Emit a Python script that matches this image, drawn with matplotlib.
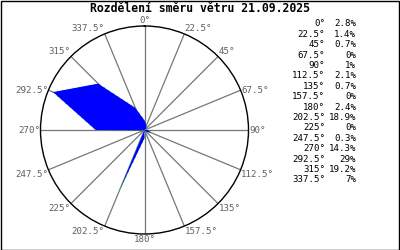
import matplotlib
matplotlib.use('Agg')
import matplotlib.pyplot as plt
import numpy as np

# wind direction distribution, 21.09.2025
title = 'Rozdělení směru větru 21.09.2025'
angles = [0, 22.5, 45, 67.5, 90, 112.5, 135, 157.5,
          180, 202.5, 225, 247.5, 270, 292.5, 315, 337.5]
percent = [2.8, 1.4, 0.7, 0, 1, 2.1, 0.7, 0,
           2.4, 18.9, 0, 0.3, 14.3, 29, 19.2, 7]

W, H = 400, 250
cx, cy, R = 144.5, 130, 104   # circle centre and radius in pixels
mono = 'DejaVu Sans Mono'
fs = 6.6

fig = plt.figure(figsize=(W/100, H/100), dpi=100)
fig.patch.set_facecolor('white')

# outer frame
fig.add_artist(plt.Rectangle((0.5/W, 0.5/H), 1-1.5/W, 1-1.5/H, transform=fig.transFigure,
                             fill=False, edgecolor='black', linewidth=1))

fig.text(0.5, 1-8.5/H, title, ha='center', va='center', fontsize=8.3,
         fontweight='bold', family=mono)

ax = fig.add_axes([(cx-R)/W, (H-cy-R)/H, 2*R/W, 2*R/H], projection='polar')
ax.set_theta_zero_location('N')
ax.set_theta_direction(-1)
rmax = max(percent)*1.05
ax.set_ylim(0, rmax)
ax.grid(False)
ax.set_xticks([])
ax.set_yticks([])
ax.spines['polar'].set_color('black')
ax.spines['polar'].set_linewidth(1)

th = np.radians(angles)

# spokes
for t in th:
    ax.plot([t, t], [0, rmax], color='#777777', linewidth=0.9, zorder=1)

# polygon of the distribution
tt = np.append(th, th[0])
rr = np.append(percent, percent[0])
ax.plot(tt, rr, color='#00ff00', linewidth=0.6, linestyle=(0, (1.5, 5)), zorder=2)
ax.fill(tt, rr, color='#0000ff', linewidth=0, zorder=3)

# angle labels just outside the circle
for a, t in zip(angles, th):
    s, c = np.sin(t), np.cos(t)
    if abs(s) < 1e-6:
        ha = 'center'
    elif s > 0:
        ha = 'left'
    else:
        ha = 'right'
    if c > 0.5:
        va = 'bottom'
    elif c > -0.1:
        va = 'center'
    else:
        va = 'top'
    ax.text(t, rmax*1.005, '%g°' % a, ha=ha, va=va, fontsize=fs,
            family=mono, color='#606060', clip_on=False)

# table on the right
for i, (a, p) in enumerate(zip(angles, percent)):
    y = 1 - (24 + i*10.4)/H
    fig.text(325/W, y, '%g°' % a, ha='right', va='center', fontsize=fs, family=mono)
    fig.text(356/W, y, '%g%%' % p, ha='right', va='center', fontsize=fs, family=mono)

fig.savefig('out.png', dpi=100)
